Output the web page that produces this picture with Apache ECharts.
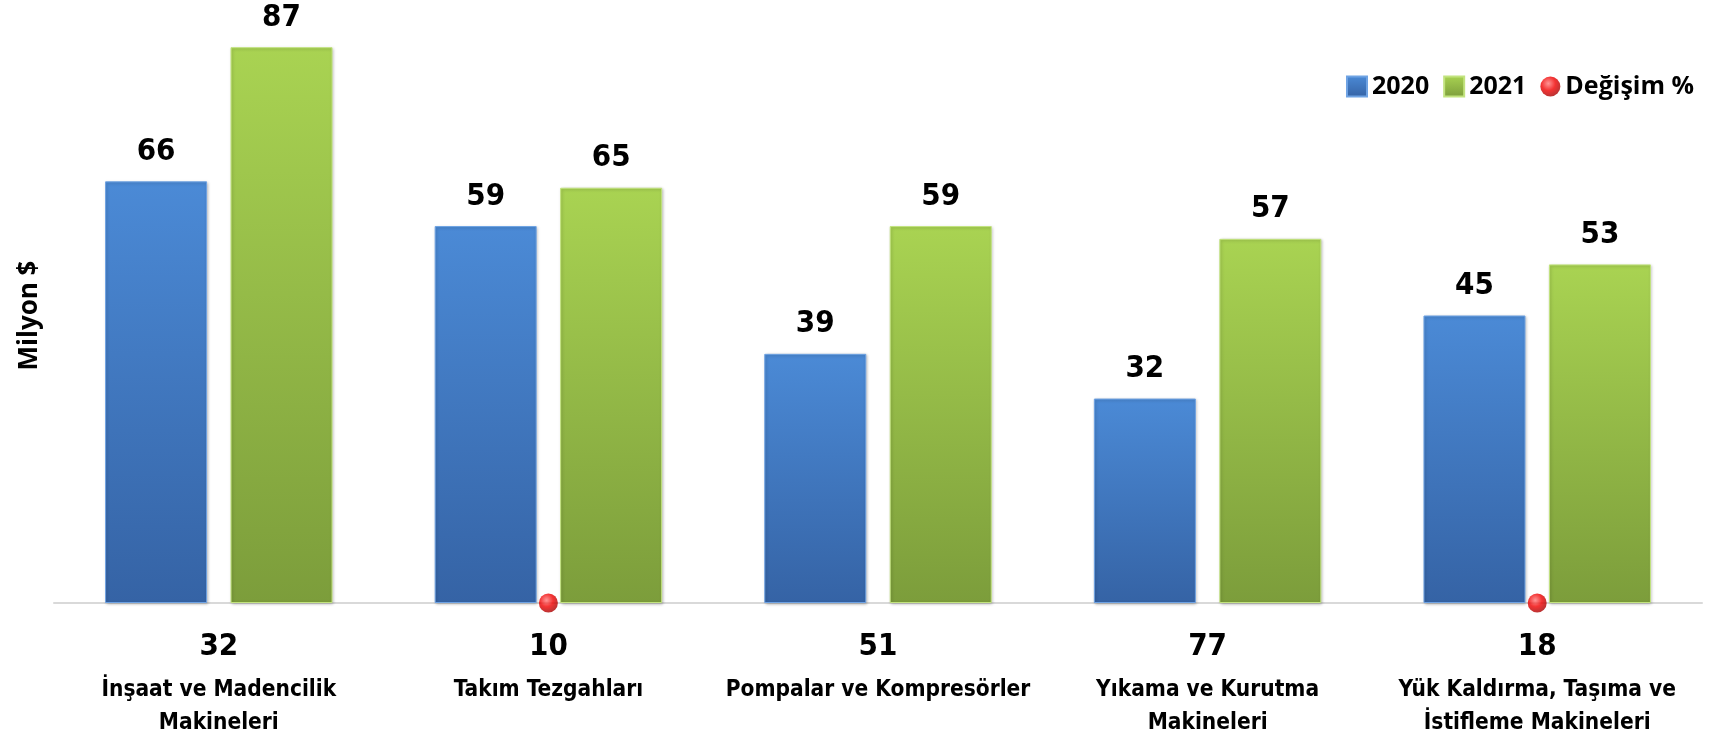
<!DOCTYPE html>
<html>
<head>
<meta charset="utf-8">
<script src="https://cdn.jsdelivr.net/npm/echarts@6/dist/echarts.min.js"></script>
<style>
  html, body { margin: 0; padding: 0; background: #fff; }
  #main { width: 1709px; height: 739px; }
</style>
</head>
<body>
<div id="main"></div>
<script>
// veriler
const kategoriler = [
  "İnşaat ve Madencilik\nMakineleri",
  "Takım Tezgahları",
  "Pompalar ve Kompresörler",
  "Yıkama ve Kurutma\nMakineleri",
  "Yük Kaldırma, Taşıma ve\nİstifleme Makineleri"
];
const deger2020 = [66, 59, 39, 32, 45];
const deger2021 = [87, 65, 59, 57, 53];
const degisim = [32, 10, 51, 77, 18];
// resimde işaret sadece 2. ve 5. kategoride, taban çizgisinde görünüyor
const degisimIsaret = [null, 0, null, null, 0];

const font = '"DejaVu Sans Condensed", sans-serif';

let myChart = echarts.init(document.getElementById("main"));

// dikey degrade (Excel kabartma görünümüne yakın)
function dolgu(ust, alt) {
  return new echarts.graphic.LinearGradient(0, 0, 0, 1, [
    { offset: 0, color: ust },
    { offset: 1, color: alt }
  ]);
}

let option = {
  animation: false,
  textStyle: { fontFamily: font },
  legend: {
    top: 69,
    right: 10,
    itemWidth: 20,
    itemHeight: 20,
    itemGap: 14,
    textStyle: { fontFamily: '"Open Sans", sans-serif', fontWeight: "bold", fontSize: 25, color: "#000" },
    data: [
      { name: "2020", icon: "rect" },
      { name: "2021", icon: "rect" },
      { name: "Değişim %", icon: "circle" }
    ]
  },
  grid: {
    left: 54,
    right: 7,
    top: 28,
    bottom: 136
  },
  xAxis: {
    type: "category",
    data: kategoriler,
    axisTick: { show: false },
    axisLine: { lineStyle: { color: "#d9d9d9", width: 2 } },
    axisLabel: {
      interval: 0,
      margin: 17,
      verticalAlign: "top",
      formatter: function (val, idx) {
        let satirlar = val.split("\n").map(s => "{n|" + s + "}");
        return "{p|" + degisim[idx] + "}\n" + satirlar.join("\n");
      },
      rich: {
        p: { fontFamily: font, fontWeight: "bold", fontSize: 31, lineHeight: 54, color: "#000" },
        n: { fontFamily: font, fontWeight: "bold", fontSize: 22.5, lineHeight: 33, color: "#000" }
      }
    }
  },
  yAxis: {
    type: "value",
    min: 0,
    max: 90,
    name: "Milyon $",
    nameLocation: "middle",
    nameGap: 11,
    nameRotate: 90,
    nameTextStyle: { fontFamily: '"Open Sans", sans-serif', fontWeight: "bold", fontSize: 26, color: "#000" },
    axisLabel: { show: false },
    axisLine: { show: false },
    axisTick: { show: false },
    splitLine: { show: false }
  },
  series: [
    {
      name: "2020",
      type: "bar",
      barWidth: 102,
      barGap: "23%",
      data: deger2020,
      itemStyle: {
        color: dolgu("#4b8ad6", "#3563a5"),
        borderColor: "#6fa3e3",
        borderWidth: 1,
        shadowColor: "rgba(0,0,0,0.25)",
        shadowBlur: 3,
        shadowOffsetX: 1,
        shadowOffsetY: 1
      },
      label: {
        show: true,
        position: "top",
        distance: 14,
        fontFamily: font,
        fontWeight: "bold",
        fontSize: 31,
        color: "#000"
      }
    },
    {
      name: "2021",
      type: "bar",
      barWidth: 102,
      data: deger2021,
      itemStyle: {
        color: dolgu("#a9d352", "#7c9d3b"),
        borderColor: "#c2e37f",
        borderWidth: 1,
        shadowColor: "rgba(0,0,0,0.25)",
        shadowBlur: 3,
        shadowOffsetX: 1,
        shadowOffsetY: 1
      },
      label: {
        show: true,
        position: "top",
        distance: 14,
        fontFamily: font,
        fontWeight: "bold",
        fontSize: 31,
        color: "#000"
      }
    },
    {
      name: "Değişim %",
      type: "scatter",
      symbol: "circle",
      symbolSize: 19,
      z: 5,
      data: degisimIsaret,
      itemStyle: {
        color: new echarts.graphic.RadialGradient(0.4, 0.35, 0.7, [
          { offset: 0, color: "#ff7a7a" },
          { offset: 0.5, color: "#f00000" },
          { offset: 1, color: "#a00000" }
        ])
      }
    }
  ]
};

option && myChart.setOption(option);
</script>
</body>
</html>
